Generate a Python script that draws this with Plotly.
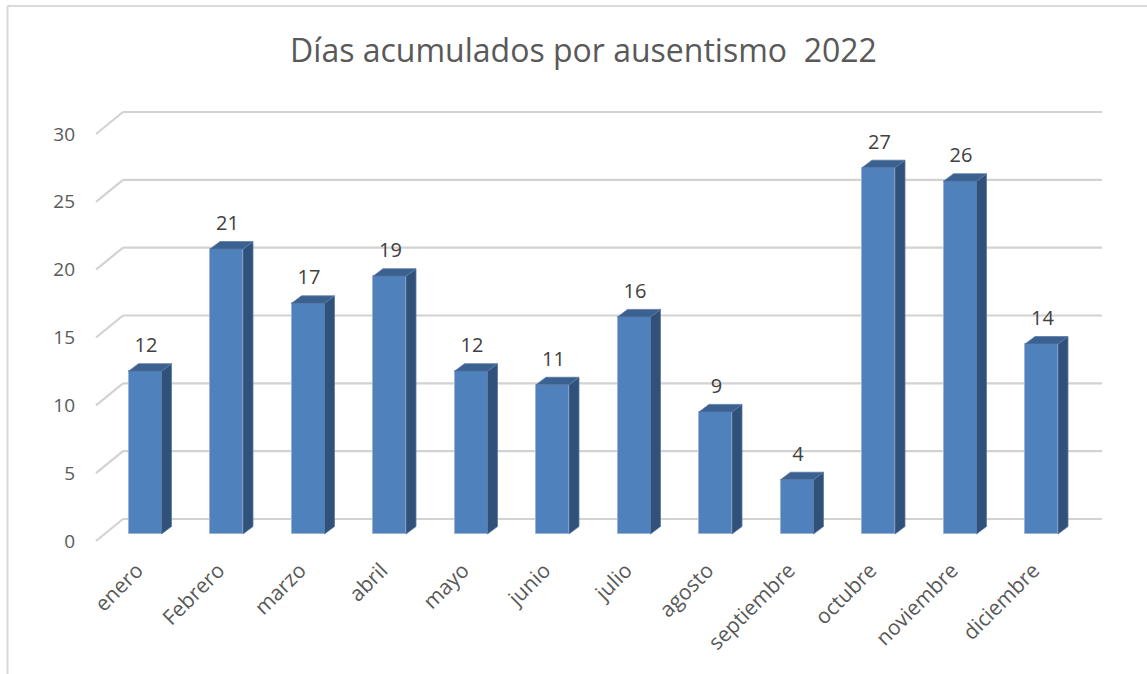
import plotly.graph_objects as go

# ---- data ----
meses = ["enero", "Febrero", "marzo", "abril", "mayo", "junio", "julio",
         "agosto", "septiembre", "octubre", "noviembre", "diciembre"]
dias = [12, 21, 17, 19, 12, 11, 16, 9, 4, 27, 26, 14]
y_ticks = [0, 5, 10, 15, 20, 25, 30]
titulo = "Días acumulados por ausentismo  2022"

# ---- layout geometry (pixels) ----
W_FIG, H_FIG = 1147, 674
L, R, T, B = 90, 1110, 100, 560
X0_PX, X_STEP = 145.0, 81.5        # first bar centre, spacing
Y0_PX, Y_STEP = 534.0, 13.567      # bar baseline, px per unit

def px2x(px):
    return (px - X0_PX) / X_STEP

def dx(px):
    return px / X_STEP

def dy(px):
    return px / Y_STEP

x_range = [px2x(L), px2x(R)]
y_range = [(Y0_PX - B) / Y_STEP, (Y0_PX - T) / Y_STEP]

bar_w = dx(33)
side_dx, top_dy = dx(10), dy(7.5)
front_dy = -dy(7)            # front floor edge
back_dy = dy(15)             # back wall
x_front_left, x_back_left, x_back_right = px2x(96), px2x(123), px2x(1102)

FRONT, SIDE, TOP = "#4F81BD", "#30527A", "#3A6190"
EDGE = "#9DB3D6"
GRID = "#D2D2D2"
TXT = "#595959"
FONT = "Open Sans"

xs = list(range(len(meses)))

fig = go.Figure()

# front faces
fig.add_trace(go.Bar(
    x=xs, y=dias, width=bar_w, marker=dict(color=FRONT, line=dict(color=EDGE, width=1)),
    hoverinfo="skip", showlegend=False))

# side faces and tops
sx, sy, tx, ty = [], [], [], []
for i, v in zip(xs, dias):
    xr = i + bar_w / 2
    xl = i - bar_w / 2
    sx += [xr, xr + side_dx, xr + side_dx, xr, xr, None]
    sy += [0, top_dy, v + top_dy, v, 0, None]
    tx += [xl, xl + side_dx, xr + side_dx, xr, xl, None]
    ty += [v, v + top_dy, v + top_dy, v, v, None]
fig.add_trace(go.Scatter(x=sx, y=sy, mode="lines", fill="toself", fillcolor=SIDE,
                         line=dict(color="#5A7AA6", width=0.8), hoverinfo="skip", showlegend=False))
fig.add_trace(go.Scatter(x=tx, y=ty, mode="lines", fill="toself", fillcolor=TOP,
                         line=dict(color="#5A7AA6", width=0.8), hoverinfo="skip", showlegend=False))

# value labels
fig.add_trace(go.Scatter(
    x=[i + dx(1) for i in xs], y=[v + dy(24) for v in dias], mode="text",
    text=[str(v) for v in dias], textposition="middle center",
    textfont=dict(family=FONT, size=20, color="#404040"),
    hoverinfo="skip", showlegend=False))

# back-wall gridlines with left side-wall diagonals
shapes = []
for g in y_ticks:
    shapes.append(dict(type="line", xref="x", yref="y", layer="below",
                       x0=x_back_left, y0=g + back_dy, x1=x_back_right, y1=g + back_dy,
                       line=dict(color=GRID, width=2.2)))
    shapes.append(dict(type="line", xref="x", yref="y", layer="below",
                       x0=x_front_left, y0=g + front_dy, x1=x_back_left, y1=g + back_dy,
                       line=dict(color=GRID, width=2.2)))

# outer border (top and left edges visible)
pw, ph = R - L, B - T
shapes.append(dict(type="line", xref="paper", yref="paper",
                   x0=(7.5 - L) / pw, x1=(1147 - L) / pw,
                   y0=(B - 6) / ph, y1=(B - 6) / ph,
                   line=dict(color="#D9D9D9", width=2)))
shapes.append(dict(type="line", xref="paper", yref="paper",
                   x0=(7.5 - L) / pw, x1=(7.5 - L) / pw,
                   y0=(B - 6) / ph, y1=(B - 674) / ph,
                   line=dict(color="#D9D9D9", width=2)))

fig.update_layout(
    width=W_FIG, height=H_FIG,
    margin=dict(l=L, r=W_FIG - R, t=T, b=H_FIG - B, autoexpand=False),
    paper_bgcolor="white", plot_bgcolor="white",
    shapes=shapes,
    title=dict(text=titulo, x=(583.5) / W_FIG, xanchor="center", y=1 - 51 / H_FIG, yanchor="middle",
               font=dict(family=FONT, size=32, color=TXT)),
    xaxis=dict(range=x_range, tickvals=[i - dx(8) for i in xs], ticktext=meses, tickangle=-45,
               showgrid=False, zeroline=False, showline=False, ticks="", automargin=False,
               ticklabelstandoff=-7,
               tickfont=dict(family=FONT, size=21, color=TXT), fixedrange=True),
    yaxis=dict(range=y_range, tickvals=[g + front_dy for g in y_ticks],
               ticktext=[str(g) for g in y_ticks],
               showgrid=False, zeroline=False, showline=False, ticks="", automargin=False,
               ticklabelstandoff=14,
               tickfont=dict(family=FONT, size=19, color=TXT), fixedrange=True),
    bargap=0,
)

fig.write_html("out.html", config={"displayModeBar": False},
               post_script="document.body.style.margin='0';document.body.style.overflow='hidden';")
